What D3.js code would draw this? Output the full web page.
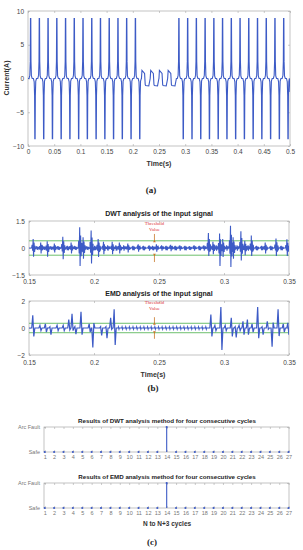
<!DOCTYPE html>
<html>
<head>
<meta charset="utf-8">
<script src="https://cdn.jsdelivr.net/npm/d3@7"></script>
<style>
  body { margin: 0; background: #fff; }
  text { font-family: "Liberation Sans", Arial, sans-serif; }
</style>
</head>
<body>
<div id="chart"></div>
<script>
// ---- data ----
// (a) current waveform: times of the narrow +/-9 A pulses, pulse shape, arc section
var aXTicks = [0, 0.05, 0.1, 0.15, 0.2, 0.25, 0.3, 0.35, 0.4, 0.45, 0.5];
var aYTicks = [-10, -5, 0, 5, 10];
var upPulseTimes = [0.0050, 0.0217, 0.0383, 0.0550, 0.0717, 0.0883, 0.1050, 0.1217, 0.1383,
  0.1550, 0.1717, 0.1883, 0.2050, 0.2880, 0.3047, 0.3213, 0.3380, 0.3547, 0.3713, 0.3880,
  0.4047, 0.4213, 0.4380, 0.4547, 0.4713, 0.4880];
var downPulseTimes = [0.0133, 0.0300, 0.0467, 0.0633, 0.0800, 0.0967, 0.1133, 0.1300, 0.1467,
  0.1633, 0.1800, 0.1967, 0.2133, 0.2963, 0.3130, 0.3297, 0.3463, 0.3630, 0.3797, 0.3963,
  0.4130, 0.4297, 0.4463, 0.4630, 0.4797, 0.4963];
var pulseShape = [[-0.0030, 0], [-0.0015, 0.5], [-0.0007, 2.5], [-0.0003, 8.9],
  [0.0003, 8.9], [0.0007, 2.5], [0.0015, 0.4], [0.0030, 0]];
var arcCycleStarts = [0.2165, 0.2332, 0.2498, 0.2665];
var arcShape = [[0, 0], [0.0010, 1.2], [0.0060, 0.75], [0.0072, -0.9], [0.0080, -1.05],
  [0.0140, -1.1], [0.0167, 0]];
var aTail = [[0.4993, 0], [0.5, -2]];

// (b) DWT detail signal: bursts [time, positive peak, negative peak]
var bXTicks = [0.15, 0.2, 0.25, 0.3, 0.35];
var dwtYTicks = [-1.5, 0, 1.5];
var dwtThreshold = 0.4;
var dwtBursts = [
  [0.1532, 0.50, 0.48], [0.1590, 0.30, 0.30], [0.1640, 0.37, 0.48], [0.1695, 0.25, 0.25],
  [0.1760, 0.62, 0.62], [0.1824, 0.30, 0.30], [0.1890, 1.15, 1.00], [0.1916, 0.60, 0.60],
  [0.1978, 0.97, 0.86], [0.2032, 0.50, 0.50], [0.2073, 0.35, 0.35], [0.2140, 0.35, 0.35],
  [0.2195, 0.30, 0.30], [0.2260, 0.25, 0.25], [0.2340, 0.20, 0.20], [0.2424, 0.15, 0.15],
  [0.2480, 0.20, 0.20], [0.2880, 0.83, 0.45], [0.2915, 0.35, 0.35], [0.2966, 0.80, 1.00],
  [0.2990, 0.50, 0.50], [0.3050, 1.23, 1.05], [0.3070, 0.60, 0.60], [0.3130, 0.93, 0.70],
  [0.3160, 0.40, 0.40], [0.3210, 0.70, 0.45], [0.3317, 0.30, 0.30], [0.3400, 0.53, 0.45],
  [0.3484, 0.48, 0.45]
];
var dwtRipple = [
  [0.1560, 0.10], [0.1615, 0.10], [0.1668, 0.10], [0.1725, 0.10], [0.1795, 0.12],
  [0.1855, 0.10], [0.1945, 0.10], [0.2005, 0.12], [0.2105, 0.15], [0.2168, 0.15],
  [0.2228, 0.15], [0.2300, 0.12], [0.2380, 0.12], [0.2450, 0.12], [0.2520, 0.15],
  [0.2555, 0.12], [0.2590, 0.18], [0.2625, 0.12], [0.2660, 0.15], [0.2700, 0.12],
  [0.2735, 0.10], [0.2770, 0.15], [0.2810, 0.12], [0.2845, 0.15], [0.2940, 0.15],
  [0.3020, 0.15], [0.3100, 0.15], [0.3185, 0.15], [0.3250, 0.12], [0.3290, 0.12],
  [0.3360, 0.12], [0.3440, 0.12]
];
var burstShape = [[-0.0012, 0], [-0.0008, 0.35], [-0.0004, -0.3], [0, 1], [0.0003, -1],
  [0.0007, 0.6], [0.0011, -0.45], [0.0015, 0.25], [0.0019, -0.15], [0.0024, 0]];

// (b) EMD signal: single swings [time, first value, second value]
var emdYTicks = [-2, 0, 2];
var emdThreshold = 0.35;
var emdBursts = [
  [0.1533, 0.95, -0.62], [0.1588, 0.20, -0.20], [0.1630, 0.30, -0.30], [0.1665, 0.10, -0.50],
  [0.1720, 0.20, -0.20], [0.1767, 0.20, -0.20], [0.1810, 0.62, -0.15], [0.1835, 1.05, -0.20],
  [0.1857, 0.10, -0.45], [0.1904, 1.20, -0.50], [0.1967, 0.30, -0.30], [0.1995, -1.45, 0.37],
  [0.2055, 0.10, -0.55], [0.2096, 0.10, -0.75], [0.2132, 0.75, -0.10], [0.2159, 1.38, -1.25],
  [0.2903, 1.00, -0.62], [0.2934, 0.20, -0.20], [0.2980, 1.55, -1.62], [0.3013, 0.20, -0.20],
  [0.3060, 0.75, -0.62], [0.3090, 0.10, -0.70], [0.3120, 0.20, -0.20], [0.3150, 0.50, -0.50],
  [0.3184, 0.62, -0.50], [0.3220, 0.30, -0.30], [0.3263, 1.55, -0.75], [0.3297, 0.10, -0.50],
  [0.3337, 0.50, -0.10], [0.3374, -1.38, 0.40], [0.3420, 1.38, -0.60], [0.3460, 0.30, -0.30],
  [0.3495, 0.38, -0.50]
];
var emdRipple = [0.2190, 0.2218, 0.2246, 0.2274, 0.2302, 0.2330, 0.2358, 0.2386, 0.2414,
  0.2442, 0.2470, 0.2498, 0.2526, 0.2554, 0.2582, 0.2610, 0.2638, 0.2666, 0.2694, 0.2722,
  0.2750, 0.2778, 0.2806, 0.2834, 0.2862];
var emdRippleAmp = 0.07;

// (c) detection results per cycle (0 = Safe, 1 = Arc Fault)
var cycles = [1, 2, 3, 4, 5, 6, 7, 8, 9, 10, 11, 12, 13, 14, 15, 16, 17, 18, 19, 20, 21, 22, 23, 24, 25, 26, 27];
var dwtResult = [0, 0, 0, 0, 0, 0, 0, 0, 0, 0, 0, 0, 0, 1, 0, 0, 0, 0, 0, 0, 0, 0, 0, 0, 0, 0, 0];
var emdResult = [0, 0, 0, 0, 0, 0, 0, 0, 0, 0, 0, 0, 0, 1, 0, 0, 0, 0, 0, 0, 0, 0, 0, 0, 0, 0, 0];
var resultLabels = ["Safe", "Arc Fault"];

// ---- drawing ----
var svgWidth = 303, svgHeight = 550;
var lineColor = "#3d5bc6";
var axisColor = "#aaa";
var textColor = "#444";

var svg = d3.select("#chart").append("svg")
  .attr("width", svgWidth)
  .attr("height", svgHeight);
svg.append("rect").attr("width", svgWidth).attr("height", svgHeight).attr("fill", "#fff");

var clipId = 0;

// box with inward ticks, like a matlab axes
function drawAxes(x, y, xTicks, yTicks, xFmt, yFmt, fontSize, xPad) {
  var g = svg.append("g");
  var x0 = x.range()[0], x1 = x.range()[1];
  var y0 = y.range()[0], y1 = y.range()[1];
  g.append("rect")
    .attr("x", x0).attr("y", y1)
    .attr("width", x1 - x0).attr("height", y0 - y1)
    .attr("fill", "none").attr("stroke", axisColor).attr("stroke-width", 0.7);

  var bottom = g.append("g")
    .attr("transform", `translate(0, ${y0})`)
    .call(d3.axisBottom(x).tickValues(xTicks).tickFormat(xFmt).tickSize(-2).tickPadding(xPad || 3));
  var top = g.append("g")
    .attr("transform", `translate(0, ${y1})`)
    .call(d3.axisTop(x).tickValues(xTicks).tickFormat("").tickSize(-2));
  var left = g.append("g")
    .attr("transform", `translate(${x0}, 0)`)
    .call(d3.axisLeft(y).tickValues(yTicks).tickFormat(yFmt).tickSize(-2).tickPadding(4));
  var right = g.append("g")
    .attr("transform", `translate(${x1}, 0)`)
    .call(d3.axisRight(y).tickValues(yTicks).tickFormat("").tickSize(-2));

  [bottom, top, left, right].forEach(function(a) {
    a.select(".domain").remove();
    a.selectAll("line").attr("stroke", axisColor).attr("stroke-width", 0.6);
    a.selectAll("text")
      .attr("fill", textColor)
      .style("font-family", "'Liberation Sans', Arial, sans-serif")
      .style("font-size", fontSize + "px");
  });
  return g;
}

function clipFor(x, y) {
  clipId += 1;
  var id = "clip" + clipId;
  svg.append("clipPath").attr("id", id)
    .append("rect")
    .attr("x", x.range()[0]).attr("y", y.range()[1])
    .attr("width", x.range()[1] - x.range()[0])
    .attr("height", y.range()[0] - y.range()[1]);
  return "url(#" + id + ")";
}

function label(txt, x, y, size, opts) {
  opts = opts || {};
  var t = svg.append("text")
    .attr("x", x).attr("y", y)
    .attr("text-anchor", opts.anchor || "middle")
    .attr("fill", opts.color || "#222")
    .style("font-size", size + "px")
    .style("font-weight", opts.bold ? "bold" : "normal")
    .text(txt);
  if (opts.serif) t.style("font-family", "'Liberation Serif', 'Times New Roman', serif");
  if (opts.rotate) t.attr("transform", `rotate(-90, ${x}, ${y})`);
  return t;
}

// ---------- (a) current ----------
var ax = d3.scaleLinear().domain([0, 0.5]).range([28, 290]);
var ay = d3.scaleLinear().domain([-10, 10]).range([146, 11]);
drawAxes(ax, ay, aXTicks, aYTicks, d3.format("~g"), d3.format("d"), 6.5);

var aPoints = [[0, 0]];
upPulseTimes.forEach(function(t) {
  pulseShape.forEach(function(p) { aPoints.push([t + p[0], p[1]]); });
});
downPulseTimes.forEach(function(t) {
  pulseShape.forEach(function(p) { aPoints.push([t + p[0], -p[1]]); });
});
arcCycleStarts.forEach(function(t) {
  arcShape.forEach(function(p) { aPoints.push([t + p[0], p[1]]); });
});
aTail.forEach(function(p) { aPoints.push(p); });
aPoints.sort(function(a, b) { return a[0] - b[0]; });

var aLine = d3.line().x(d => ax(d[0])).y(d => ay(d[1]));
svg.append("path")
  .datum(aPoints)
  .attr("clip-path", clipFor(ax, ay))
  .attr("d", aLine)
  .attr("fill", "none")
  .attr("stroke", lineColor)
  .attr("stroke-width", 1.1);

label("Current(A)", 9, 78, 7, { rotate: true, bold: true, color: "#333" });
label("Time(s)", 159, 166, 7, { bold: true, color: "#333" });
label("(a)", 151, 193, 9, { serif: true, bold: true });

// ---------- (b) DWT ----------
var bx = d3.scaleLinear().domain([0.15, 0.35]).range([29, 289]);
var dy = d3.scaleLinear().domain([-1.5, 1.5]).range([275, 221]);
drawAxes(bx, dy, bXTicks, dwtYTicks, d3.format("~g"), d3.format("~g"), 6.5, 4);
label("DWT analysis of the input signal", 159, 216, 7, { bold: true });

var dPoints = [[0.15, 0], [0.35, 0]];
dwtBursts.forEach(function(b) {
  burstShape.forEach(function(p) {
    dPoints.push([b[0] + p[0], p[1] >= 0 ? p[1] * b[1] : p[1] * b[2]]);
  });
});
dwtRipple.forEach(function(r) {
  burstShape.forEach(function(p) {
    dPoints.push([r[0] + p[0], p[1] * r[1]]);
  });
});
dPoints.sort(function(a, b) { return a[0] - b[0]; });

var bClip = clipFor(bx, dy);
[dwtThreshold, -dwtThreshold].forEach(function(v) {
  svg.append("line")
    .attr("x1", bx(0.15)).attr("x2", bx(0.35))
    .attr("y1", dy(v)).attr("y2", dy(v))
    .attr("stroke", "#5cb85c").attr("stroke-width", 0.9);
});
svg.append("path")
  .datum(dPoints)
  .attr("clip-path", bClip)
  .attr("d", d3.line().x(d => bx(d[0])).y(d => dy(d[1])))
  .attr("fill", "none")
  .attr("stroke", lineColor)
  .attr("stroke-width", 1.1);

function thresholdNote(x, y, thr, textTop, textBottom, arrowLen) {
  var px = x(0.2465);
  label("Threshold", px, y(textTop), 4.8, { serif: true, color: "#d33" });
  label("Value", px, y(textBottom), 4.8, { serif: true, color: "#d33" });
  [1, -1].forEach(function(s) {
    var yEnd = y(s * thr) - s * 1;
    var yStart = y(s * (thr + arrowLen));
    svg.append("line")
      .attr("x1", px).attr("x2", px)
      .attr("y1", yStart).attr("y2", yEnd + s * 2)
      .attr("stroke", "#c8782a").attr("stroke-width", 0.8);
    svg.append("path")
      .attr("d", `M${px - 1.4},${yEnd + s * 2.4} L${px + 1.4},${yEnd + s * 2.4} L${px},${yEnd} Z`)
      .attr("fill", "#c8782a");
  });
}
thresholdNote(bx, dy, dwtThreshold, 1.3, 0.95, 0.38);

// ---------- (b) EMD ----------
var ey = d3.scaleLinear().domain([-2, 2]).range([355, 301]);
drawAxes(bx, ey, bXTicks, emdYTicks, d3.format("~g"), d3.format("d"), 6.5, 5);
label("EMD analysis of the input signal", 159, 296, 7, { bold: true });

var ePoints = [[0.15, 0], [0.35, 0]];
emdBursts.forEach(function(b) {
  ePoints.push([b[0] - 0.0012, 0]);
  ePoints.push([b[0] - 0.0004, b[1]]);
  ePoints.push([b[0] + 0.0004, b[2]]);
  ePoints.push([b[0] + 0.0012, 0]);
});
emdRipple.forEach(function(t) {
  ePoints.push([t - 0.0004, 0]);
  ePoints.push([t - 0.0002, emdRippleAmp]);
  ePoints.push([t + 0.0002, -emdRippleAmp]);
  ePoints.push([t + 0.0004, 0]);
});
ePoints.sort(function(a, b) { return a[0] - b[0]; });

[emdThreshold, -emdThreshold].forEach(function(v) {
  svg.append("line")
    .attr("x1", bx(0.15)).attr("x2", bx(0.35))
    .attr("y1", ey(v)).attr("y2", ey(v))
    .attr("stroke", "#5cb85c").attr("stroke-width", 0.9);
});
svg.append("path")
  .datum(ePoints)
  .attr("clip-path", clipFor(bx, ey))
  .attr("d", d3.line().x(d => bx(d[0])).y(d => ey(d[1])))
  .attr("fill", "none")
  .attr("stroke", lineColor)
  .attr("stroke-width", 1.2);
thresholdNote(bx, ey, emdThreshold, 1.75, 1.35, 0.45);

label("Time(s)", 153, 377, 7, { bold: true, color: "#333" });
label("(b)", 153, 391, 9, { serif: true, bold: true });

// ---------- (c) results ----------
var cx = d3.scaleLinear().domain([0.92, 27.04]).range([44, 289]);

function resultPanel(values, title, yTop, yBottom) {
  var y = d3.scaleLinear().domain([0, 1]).range([yBottom, yTop]);
  var g = drawAxes(cx, y, cycles, [0, 1], d3.format("d"), function(d) { return resultLabels[d]; }, 5.5);
  g.selectAll("text").attr("fill", "#777");
  label(title, 167, yTop - 4, 6.2, { bold: true });

  values.forEach(function(v, i) {
    if (v > 0) {
      svg.append("line")
        .attr("x1", cx(cycles[i])).attr("x2", cx(cycles[i]))
        .attr("y1", y(0)).attr("y2", y(v))
        .attr("stroke", lineColor).attr("stroke-width", 1.1);
    }
  });
  svg.append("g").selectAll("circle")
    .data(values)
    .enter()
    .append("circle")
    .attr("cx", (d, i) => cx(cycles[i]))
    .attr("cy", d => y(d))
    .attr("r", 1.1)
    .attr("fill", lineColor);
}
resultPanel(dwtResult, "Results of DWT analysis method for four consecutive cycles", 427, 452);
resultPanel(emdResult, "Results of EMD analysis method for four consecutive cycles", 483, 508);

label("N to N+3 cycles", 167, 526, 6.5, { bold: true, color: "#333" });
label("(c)", 152, 545, 9, { serif: true, bold: true });
</script>
</body>
</html>
